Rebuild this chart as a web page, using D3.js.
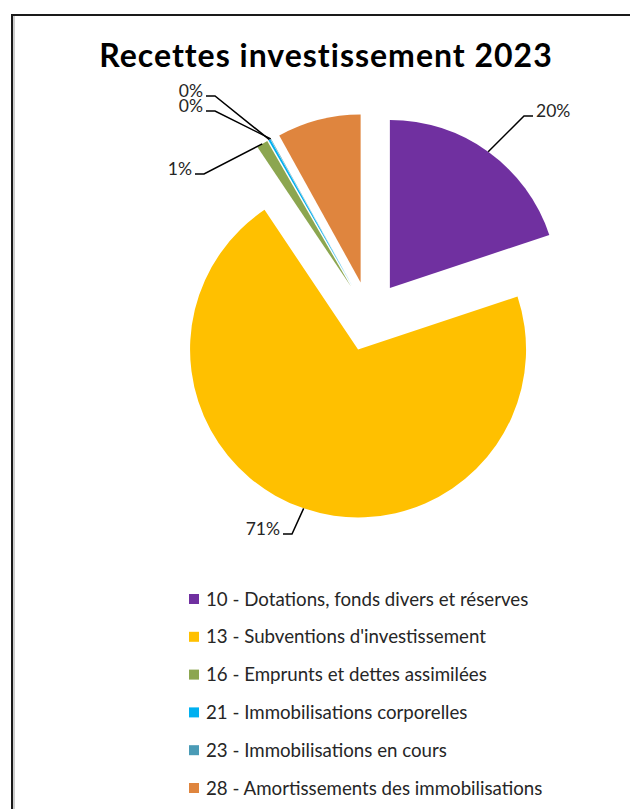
<!DOCTYPE html>
<html><head><meta charset="utf-8">
<script src="https://cdn.jsdelivr.net/npm/d3@7"></script>
<style>html,body{margin:0;padding:0;background:#fff;} svg{display:block;}</style>
</head><body>
<script>
// Investment receipts by account chapter, 2023 (share of total, %)
const categories = [
  "10 - Dotations, fonds divers et réserves",
  "13 - Subventions d'investissement",
  "16 - Emprunts et dettes assimilées",
  "21 - Immobilisations corporelles",
  "23 - Immobilisations en cours",
  "28 - Amortissements des immobilisations"
];
const shares = [19.9, 70.7, 1.1, 0.2, 0.05, 8.05];
const sliceColors = ["#7030A0", "#FFC000", "#8CA650", "#00B0F0", "#4A9BB6", "#DF853E"];
const labelled = [true, true, true, true, true, false];
const chartTitle = "Recettes investissement 2023";

const W = 630, H = 809;
const cx = 369.4, cy = 316.3, radius = 168, explode = 35;
const font = "Lato, 'Open Sans', sans-serif";

// text placement of the data labels (anchor side, x, baseline)
const labelLayout = [
  {anchor: "start", x: 536, y: 117},
  {anchor: "end",   x: 280, y: 535},
  {anchor: "end",   x: 192, y: 175},
  {anchor: "end",   x: 203, y: 97},
  {anchor: "end",   x: 203, y: 112},
  null
];

const svg = d3.select("body").append("svg").attr("width", W).attr("height", H);

// chart frame
svg.append("rect").attr("x", 12).attr("y", 15).attr("width", W + 20).attr("height", H + 20)
  .attr("fill", "none").attr("stroke", "#1a1a1a").attr("stroke-width", 2);
svg.append("line").attr("x1", 14).attr("x2", 14).attr("y1", 16).attr("y2", H)
  .attr("stroke", "#9a9a9a").attr("stroke-width", 1);

svg.append("text").attr("x", 326).attr("y", 67).attr("text-anchor", "middle")
  .attr("font-family", font).attr("font-weight", 700).attr("font-size", 32)
  .attr("letter-spacing", 1).attr("fill", "#000").text(chartTitle);

const color = d3.scaleOrdinal().domain(categories).range(sliceColors);
const pie = d3.pie().sort(null).value(d => d.v);
const arc = d3.arc().innerRadius(0).outerRadius(radius);
const arcs = pie(categories.map((c, i) => ({c, v: shares[i], i})));

const shift = d => {
  const a = (d.startAngle + d.endAngle) / 2;
  return [cx + Math.sin(a) * explode, cy - Math.cos(a) * explode];
};

const g = svg.append("g");
g.selectAll("path.slice").data(arcs).join("path")
  .attr("class", "slice")
  .attr("transform", d => `translate(${shift(d)})`)
  .attr("d", arc)
  .attr("fill", d => color(d.data.c));

// leader lines and labels
const pct = v => Math.round(v) + "%";
arcs.forEach((d, i) => {
  if (!labelled[i]) return;
  const L = labelLayout[i];
  const [ox, oy] = shift(d);
  const a = (d.startAngle + d.endAngle) / 2;
  const px = ox + Math.sin(a) * radius, py = oy - Math.cos(a) * radius;
  const dir = L.anchor === "start" ? -1 : 1;
  const hx0 = L.x + dir * 3, hx1 = L.x + dir * 12, hy = L.y - 1;
  svg.append("path")
    .attr("d", `M${hx0},${hy}L${hx1},${hy}L${px},${py}`)
    .attr("fill", "none").attr("stroke", "#000").attr("stroke-width", 1.5);
  svg.append("text").attr("x", L.x).attr("y", L.y).attr("text-anchor", L.anchor)
    .attr("font-family", font).attr("font-size", 17.5).attr("fill", "#262626")
    .text(pct(d.data.v));
});

// legend
const ly = d3.scalePoint().domain(categories).range([599, 788]);
const leg = svg.append("g").selectAll("g").data(categories).join("g")
  .attr("transform", c => `translate(189,${ly(c)})`);
leg.append("rect").attr("x", 0).attr("y", -5).attr("width", 10).attr("height", 10)
  .attr("fill", c => color(c));
leg.append("text").attr("x", 17).attr("y", 0).attr("dy", "0.35em")
  .attr("font-family", font).attr("font-size", 18.7).attr("fill", "#262626")
  .text(c => c);
</script>
</body></html>
